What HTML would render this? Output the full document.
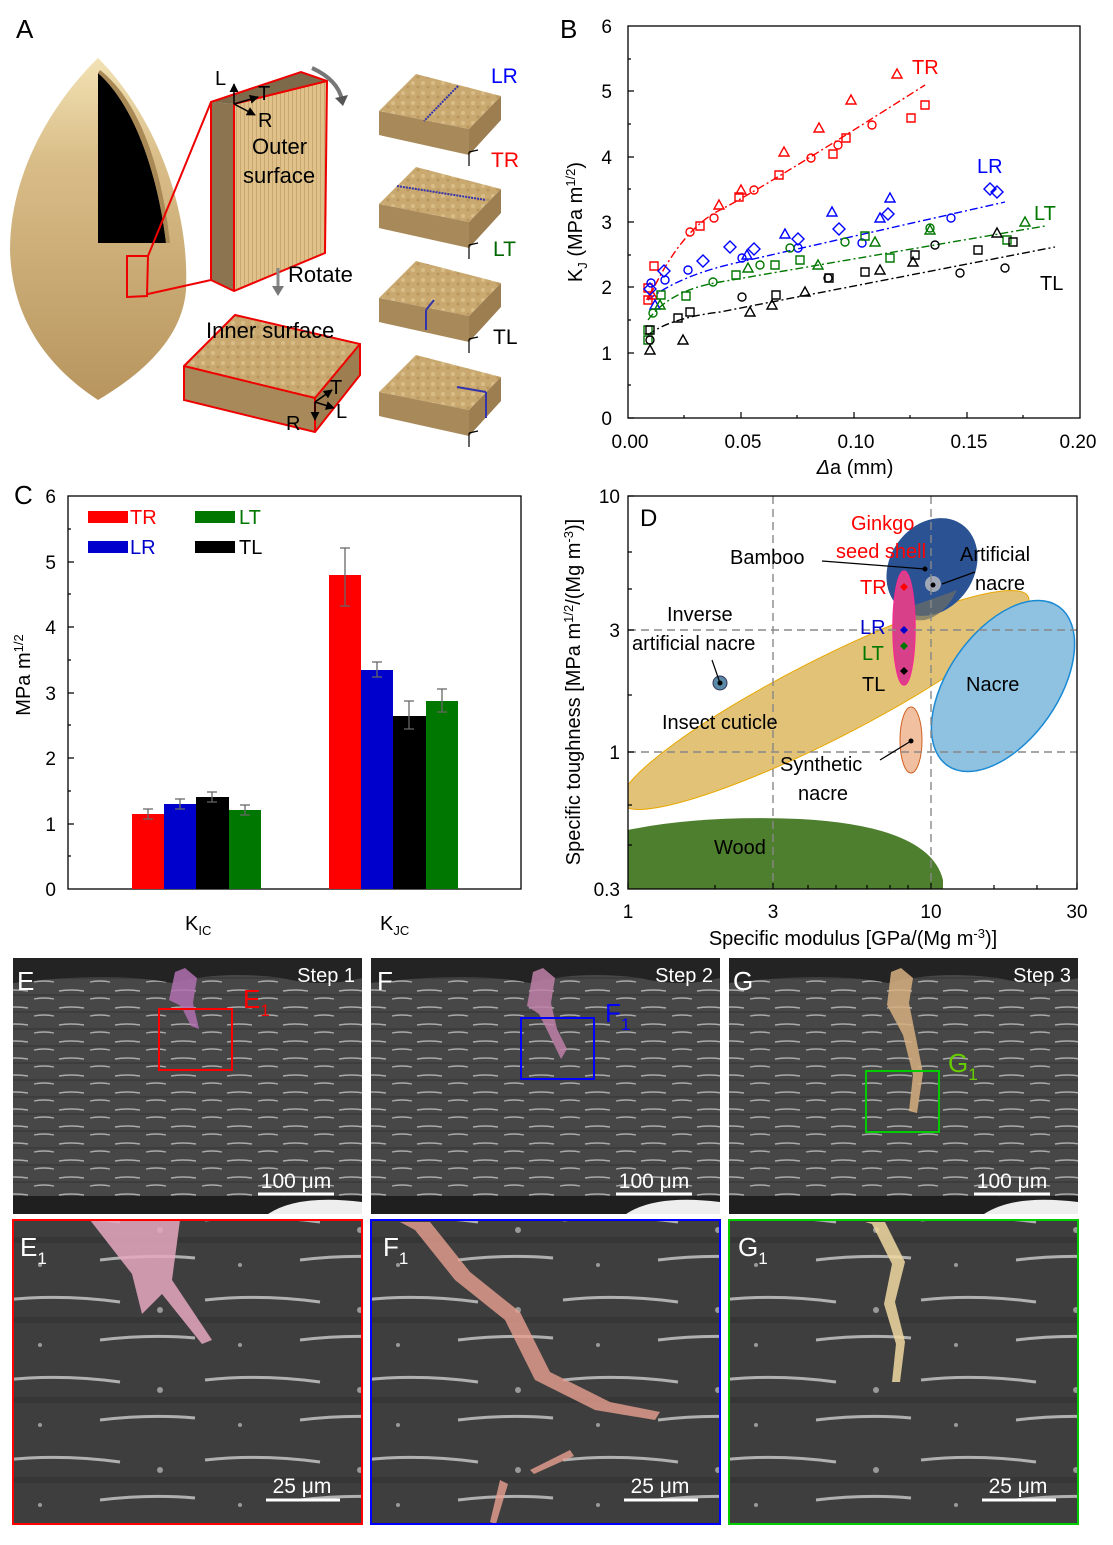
<!DOCTYPE html>
<html><head><meta charset="utf-8"><style>
html,body{margin:0;padding:0;background:#fff}
svg{display:block;font-family:"Liberation Sans",Arial,sans-serif}
</style></head><body>
<svg width="1113" height="1545" viewBox="0 0 1113 1545" xmlns="http://www.w3.org/2000/svg">
<defs>
<linearGradient id="seedTop" x1="0" y1="0" x2="0" y2="1"><stop offset="0" stop-color="#f2e2b4"/><stop offset="0.3" stop-color="#d9bd88"/><stop offset="1" stop-color="#b8955e"/></linearGradient>
<pattern id="sem1" width="56" height="17" patternUnits="userSpaceOnUse"><rect width="56" height="17" fill="#474747"/><path d="M3 5 Q15 3 28 5 M34 13 Q44 11 54 13" stroke="#aaa" stroke-width="1.4" fill="none"/><path d="M0 9 H56" stroke="#3d3d3d" stroke-width="2"/></pattern>
<pattern id="sem2" width="200" height="80" patternUnits="userSpaceOnUse"><rect width="200" height="80" fill="#3e3e3e"/><path d="M5 20 Q60 14 120 22 M100 60 Q150 54 195 58" stroke="#b0b0b0" stroke-width="3" fill="none"/><path d="M0 40 H200" stroke="#363636" stroke-width="6"/><circle cx="160" cy="30" r="3" fill="#999"/><circle cx="40" cy="65" r="2" fill="#999"/></pattern>
<pattern id="cork" width="10" height="10" patternUnits="userSpaceOnUse"><rect width="10" height="10" fill="#c9a96f"/><circle cx="3" cy="3" r="2" fill="#d8bd88"/><circle cx="8" cy="7" r="1.5" fill="#b8965d"/></pattern>
<pattern id="stripe" width="4" height="10" patternUnits="userSpaceOnUse"><rect width="4" height="10" fill="#e0c18a"/><rect width="1" height="10" fill="#c9a86f"/></pattern>
<clipPath id="dclip"><rect x="628" y="496" width="449" height="393"/></clipPath>
<marker id="arr" viewBox="0 0 10 10" refX="9" refY="5" markerWidth="6" markerHeight="6" orient="auto"><path d="M0 0 L10 5 L0 10z" fill="#000"/></marker>
</defs>

<!-- Panel A -->
<text x="16" y="38" font-size="26">A</text>
<path d="M98 58 C150 110 190 200 186 290 C182 340 140 375 98 400 C60 375 12 330 10 250 C10 170 55 100 98 58Z" fill="url(#seedTop)"/>
<path d="M98 73 L98 243 L166 243 C160 190 140 110 98 73Z" fill="#000"/>
<path d="M98 73 C140 110 160 190 166 243 L170 243 C164 185 145 105 100 70Z" fill="#a98955"/>
<polygon points="127,256 148,256 147,296 127,297" fill="none" stroke="#e00" stroke-width="2"/>
<line x1="148" y1="256" x2="211" y2="102" stroke="#e00" stroke-width="2"/>
<line x1="148" y1="294" x2="211" y2="280" stroke="#e00" stroke-width="2"/>
<polygon points="211,102 234,104 234,291 211,280" fill="#8c7450"/>
<polygon points="211,102 301,72 327,81 234,104" fill="#7d6a4a"/>
<polygon points="234,104 327,81 325,253 234,291" fill="url(#stripe)"/>
<polygon points="211,102 301,72 327,81 325,253 234,291 211,280" fill="none" stroke="#e00" stroke-width="2"/>
<line x1="234" y1="104" x2="234" y2="291" stroke="#e00" stroke-width="2"/><line x1="234" y1="104" x2="327" y2="81" stroke="#e00" stroke-width="2"/>
<line x1="234" y1="104" x2="234" y2="84" stroke="#000" stroke-width="1.5" marker-end="url(#arr)"/>
<line x1="234" y1="104" x2="258" y2="97" stroke="#000" stroke-width="1.5" marker-end="url(#arr)"/>
<line x1="234" y1="104" x2="255" y2="115" stroke="#000" stroke-width="1.5" marker-end="url(#arr)"/>
<text x="215" y="85" font-size="20">L</text><text x="258" y="100" font-size="20">T</text><text x="258" y="127" font-size="20">R</text>
<text x="252" y="154" font-size="22">Outer</text><text x="243" y="183" font-size="22">surface</text>
<path d="M312 68 Q338 80 342 100" stroke="#777" stroke-width="4" fill="none"/><path d="M335 98 L343 106 L348 95Z" fill="#555"/>
<line x1="278" y1="268" x2="278" y2="288" stroke="#888" stroke-width="3"/><path d="M272 286 L278 296 L284 286Z" fill="#777"/>
<text x="288" y="282" font-size="22">Rotate</text>
<polygon points="184,366 235,315 360,344 315,398" fill="url(#cork)"/>
<polygon points="184,366 315,398 315,432 184,400" fill="#a88a5a"/>
<polygon points="315,398 360,344 360,375 315,432" fill="#9c7e50"/>
<path d="M184,366 L235,315 L360,344 L360,375 L315,432 L184,400Z M184,366 L315,398 L360,344 M315,398 L315,432" fill="none" stroke="#e00" stroke-width="2"/>
<text x="206" y="338" font-size="22">Inner surface</text>
<line x1="315" y1="402" x2="315" y2="420" stroke="#000" stroke-width="1.5" marker-end="url(#arr)"/>
<line x1="315" y1="402" x2="332" y2="390" stroke="#000" stroke-width="1.5" marker-end="url(#arr)"/>
<line x1="315" y1="402" x2="334" y2="408" stroke="#000" stroke-width="1.5" marker-end="url(#arr)"/>
<text x="330" y="394" font-size="20">T</text><text x="336" y="418" font-size="20">L</text><text x="286" y="430" font-size="20">R</text>
<g id="blk"><polygon points="379,111 416,74 501,96 469,129" fill="url(#cork)"/><polygon points="379,111 469,129 469,155 379,135" fill="#a88a5a"/><polygon points="469,129 501,96 501,120 469,155" fill="#9c7e50"/><line x1="469" y1="152" x2="469" y2="166" stroke="#000" stroke-width="1.2"/><line x1="469" y1="152" x2="478" y2="150" stroke="#000" stroke-width="1.2"/></g>
<use href="#blk" y="93"/><use href="#blk" y="187"/><use href="#blk" y="281"/>
<line x1="458" y1="86" x2="424" y2="121" stroke="#33a" stroke-width="2" stroke-dasharray="2 1"/>
<line x1="397" y1="186" x2="486" y2="200" stroke="#33a" stroke-width="2" stroke-dasharray="2 1"/>
<line x1="434" y1="300" x2="426" y2="310" stroke="#33a" stroke-width="2"/><line x1="426" y1="310" x2="426" y2="330" stroke="#33a" stroke-width="2"/>
<line x1="457" y1="387" x2="486" y2="392" stroke="#33a" stroke-width="2"/><line x1="486" y1="392" x2="486" y2="418" stroke="#33a" stroke-width="2"/>
<text x="491" y="83" font-size="21" fill="#00f">LR</text>
<text x="491" y="167" font-size="21" fill="#f00">TR</text>
<text x="493" y="256" font-size="21" fill="#060">LT</text>
<text x="493" y="344" font-size="21">TL</text>

<!-- Panel B -->
<text x="560" y="38" font-size="26">B</text>
<rect x="628" y="26" width="452" height="392" fill="none" stroke="#000" stroke-width="1.3"/>
<g font-size="19" text-anchor="end"><text x="612" y="425">0</text><text x="612" y="360">1</text><text x="612" y="294">2</text><text x="612" y="229">3</text><text x="612" y="164">4</text><text x="612" y="98">5</text><text x="612" y="33">6</text></g>
<g stroke="#000" stroke-width="1.2"><path d="M628 418h6M628 353h6M628 287h6M628 222h6M628 157h6M628 91h6M628 385h3M628 320h3M628 255h3M628 189h3M628 124h3M628 59h3M741 418v-6M854 418v-6M967 418v-6M684 418v-3M797 418v-3M910 418v-3M1023 418v-3"/></g>
<g font-size="19" text-anchor="middle"><text x="630" y="448">0.00</text><text x="743" y="448">0.05</text><text x="856" y="448">0.10</text><text x="969" y="448">0.15</text><text x="1078" y="448">0.20</text></g>
<text x="855" y="474" font-size="20" text-anchor="middle"><tspan font-style="italic">Δ</tspan>a (mm)</text>
<text transform="translate(582,222) rotate(-90)" font-size="20" text-anchor="middle">K<tspan font-size="13" dy="5">J</tspan><tspan dy="-5"> (MPa m</tspan><tspan font-size="13" dy="-7">1/2</tspan><tspan dy="7">)</tspan></text>
<g fill="none" stroke-width="1.4">
<path d="M648 300 Q680 230 720 210 T925 85" stroke="#f00" stroke-dasharray="8 3 2 3"/>
<path d="M648 300 Q680 275 740 262 L1005 202" stroke="#00f" stroke-dasharray="8 3 2 3"/>
<path d="M648 320 Q670 290 720 282 L1045 226" stroke="#070" stroke-dasharray="8 3 2 3"/>
<path d="M648 335 Q670 318 720 312 L1055 247" stroke="#000" stroke-dasharray="8 3 2 3"/>
<g stroke="#f00"><path d="M897 69l5 9h-10zM851 95l5 9h-10zM819 123l5 9h-10zM784 147l5 9h-10zM741 185l5 9h-10zM719 200l5 9h-10zM652 290l5 9h-10z"/>
<circle cx="872" cy="125" r="4"/><circle cx="838" cy="145" r="4"/><circle cx="811" cy="158" r="4"/><circle cx="754" cy="190" r="4"/><circle cx="714" cy="218" r="4"/><circle cx="690" cy="232" r="4"/>
<path d="M921 101h8v8h-8zM907 114h8v8h-8zM842 134h8v8h-8zM829 150h8v8h-8zM775 171h8v8h-8zM735 193h8v8h-8zM696 222h8v8h-8zM650 262h8v8h-8zM644 284h8v8h-8zM644 296h8v8h-8z"/></g>
<g stroke="#00f"><path d="M997 186l6 6-6 6-6-6zM990 183l6 6-6 6-6-6zM888 208l6 6-6 6-6-6zM839 223l6 6-6 6-6-6zM798 233l6 6-6 6-6-6zM754 243l6 6-6 6-6-6zM730 241l6 6-6 6-6-6zM703 255l6 6-6 6-6-6zM664 265l6 6-6 6-6-6zM650 283l6 6-6 6-6-6z"/>
<path d="M890 193l5 9h-10zM832 207l5 9h-10zM785 229l5 9h-10zM747 250l5 9h-10zM880 213l5 9h-10zM655 300l5 9h-10z"/>
<circle cx="951" cy="218" r="4"/><circle cx="862" cy="243" r="4"/><circle cx="798" cy="248" r="4"/><circle cx="742" cy="258" r="4"/><circle cx="688" cy="270" r="4"/><circle cx="665" cy="280" r="4"/><circle cx="651" cy="283" r="4"/></g>
<g stroke="#070"><path d="M1025 217l5 9h-10zM930 225l5 9h-10zM875 237l5 9h-10zM818 260l5 9h-10zM748 263l5 9h-10zM660 300l5 9h-10z"/>
<path d="M1003 236h8v8h-8zM886 254h8v8h-8zM861 232h8v8h-8zM796 256h8v8h-8zM771 261h8v8h-8zM732 271h8v8h-8zM682 292h8v8h-8zM657 291h8v8h-8zM644 326h8v8h-8zM644 336h8v8h-8z"/>
<circle cx="930" cy="228" r="4"/><circle cx="845" cy="242" r="4"/><circle cx="790" cy="248" r="4"/><circle cx="760" cy="265" r="4"/><circle cx="713" cy="282" r="4"/><circle cx="653" cy="313" r="4"/></g>
<g stroke="#000"><path d="M997 228l5 9h-10zM913 257l5 9h-10zM880 265l5 9h-10zM805 287l5 9h-10zM772 300l5 9h-10zM750 307l5 9h-10zM683 335l5 9h-10zM650 345l5 9h-10z"/>
<path d="M1009 238h8v8h-8zM974 246h8v8h-8zM911 251h8v8h-8zM861 268h8v8h-8zM825 274h8v8h-8zM772 291h8v8h-8zM686 308h8v8h-8zM674 314h8v8h-8zM646 326h8v8h-8z"/>
<circle cx="1005" cy="268" r="4"/><circle cx="960" cy="273" r="4"/><circle cx="935" cy="245" r="4"/><circle cx="828" cy="278" r="4"/><circle cx="742" cy="297" r="4"/><circle cx="650" cy="340" r="4"/></g>
</g>
<text x="912" y="74" font-size="20" fill="#f00">TR</text>
<text x="977" y="173" font-size="20" fill="#00f">LR</text>
<text x="1034" y="220" font-size="20" fill="#070">LT</text>
<text x="1040" y="290" font-size="20">TL</text>

<!-- Panel C -->
<text x="14" y="504" font-size="26">C</text>
<rect x="68" y="496" width="453" height="393" fill="none" stroke="#000" stroke-width="1.3"/>
<g font-size="19" text-anchor="end"><text x="56" y="896">0</text><text x="56" y="831">1</text><text x="56" y="765">2</text><text x="56" y="700">3</text><text x="56" y="634">4</text><text x="56" y="569">5</text><text x="56" y="503">6</text></g>
<path d="M68 824h6M68 758h6M68 693h6M68 627h6M68 562h6M68 856h3M68 791h3M68 725h3M68 660h3M68 594h3M68 529h3M196 889v-6M393 889v-6" stroke="#000" stroke-width="1.2"/>
<text transform="translate(30,675) rotate(-90)" font-size="20" text-anchor="middle">MPa m<tspan font-size="13" dy="-7">1/2</tspan></text>
<text x="185" y="930" font-size="20">K<tspan font-size="13" dy="5">IC</tspan></text>
<text x="380" y="930" font-size="20">K<tspan font-size="13" dy="5">JC</tspan></text>
<rect x="132" y="814" width="32" height="75" fill="#f00"/><rect x="164" y="804" width="32" height="85" fill="#00c"/><rect x="196" y="797" width="33" height="92" fill="#000"/><rect x="229" y="810" width="32" height="79" fill="#070"/>
<rect x="329" y="575" width="32" height="314" fill="#f00"/><rect x="361" y="670" width="32" height="219" fill="#00c"/><rect x="393" y="716" width="33" height="173" fill="#000"/><rect x="426" y="701" width="32" height="188" fill="#070"/>
<path d="M148 809v10M143 809h10M143 819h10M180 799v10M175 799h10M175 809h10M212 792v10M207 792h10M207 802h10M245 805v10M240 805h10M240 815h10M345 548v58M340 548h10M340 606h10M377 662v15M372 662h10M372 677h10M409 701v28M404 701h10M404 729h10M442 689v23M437 689h10M437 712h10" stroke="#666" stroke-width="1.3" fill="none"/>
<rect x="88" y="511" width="40" height="12" fill="#f00"/><text x="130" y="524" font-size="20" fill="#f00">TR</text>
<rect x="195" y="511" width="40" height="12" fill="#070"/><text x="239" y="524" font-size="20" fill="#070">LT</text>
<rect x="88" y="541" width="40" height="12" fill="#00c"/><text x="130" y="554" font-size="20" fill="#00c">LR</text>
<rect x="195" y="541" width="40" height="12" fill="#000"/><text x="239" y="554" font-size="20">TL</text>

<!-- Panel D -->
<g clip-path="url(#dclip)">
<path d="M628 830 Q700 815 800 819 Q930 826 943 880 L943 889 L628 889Z" fill="#4e7f2e"/>
<ellipse cx="825" cy="700" rx="228" ry="40" transform="rotate(-27 825 700)" fill="#e2c277" stroke="#e8a800" stroke-width="1"/>
</g>
<ellipse cx="1003" cy="686" rx="55" ry="97" transform="rotate(35 1003 686)" fill="#8fc1e0" stroke="#1a8ad4" stroke-width="1.5"/>
<ellipse cx="932" cy="567" rx="42" ry="52" transform="rotate(35 932 567)" fill="#2b5393"/>
<path d="M900 610 Q930 600 957 590 Q945 615 925 620 Q905 622 900 610Z" fill="#6e6e62" opacity="0.7"/>
<ellipse cx="904" cy="628" rx="11" ry="57" fill="#d8408a" stroke="#f03090" stroke-width="1.5"/>
<ellipse cx="911" cy="740" rx="11" ry="33" fill="#f0c0a0" stroke="#d06020" stroke-width="1"/>
<circle cx="933" cy="584" r="8" fill="#a0a8b8"/><circle cx="720" cy="683" r="7" fill="#5a8aa8" stroke="#335" stroke-width="1"/>
<path d="M628 630H1077M628 752H1077M773 496V889M931 496V889" stroke="#888" stroke-width="1.4" stroke-dasharray="8 5"/>
<rect x="628" y="496" width="449" height="393" fill="none" stroke="#000" stroke-width="1.3"/>
<path d="M628 889v-6M773 889v-6M931 889v-6M1077 889v-6M715 889v-4M808 889v-4M836 889v-4M867 889v-4M890 889v-4M908 889v-4M994 889v-4M1037 889v-4M628 496h6M628 630h6M628 752h6M628 845h4M628 805h4M628 695h4M628 589h4M628 552h4" stroke="#000" stroke-width="1.2"/>
<g font-size="19" text-anchor="end"><text x="620" y="503">10</text><text x="620" y="637">3</text><text x="620" y="759">1</text><text x="620" y="896">0.3</text></g>
<g font-size="19" text-anchor="middle"><text x="628" y="918">1</text><text x="773" y="918">3</text><text x="931" y="918">10</text><text x="1077" y="918">30</text></g>
<text x="853" y="945" font-size="20" text-anchor="middle">Specific modulus [GPa/(Mg m<tspan font-size="13" dy="-7">-3</tspan><tspan dy="7">)]</tspan></text>
<text transform="translate(580,692) rotate(-90)" font-size="20" text-anchor="middle">Specific toughness [MPa m<tspan font-size="13" dy="-7">1/2</tspan><tspan dy="7">/(Mg m</tspan><tspan font-size="13" dy="-7">-3</tspan><tspan dy="7">)]</tspan></text>
<text x="640" y="526" font-size="24">D</text>
<g font-size="20">
<text x="851" y="530" fill="#f00">Ginkgo</text><text x="836" y="558" fill="#f00">seed shell</text>
<text x="730" y="564">Bamboo</text><text x="960" y="561">Artificial</text><text x="975" y="590">nacre</text>
<text x="860" y="594" fill="#f00">TR</text><text x="860" y="634" fill="#00c">LR</text><text x="862" y="660" fill="#070">LT</text><text x="862" y="691">TL</text>
<text x="667" y="621">Inverse</text><text x="632" y="650">artificial nacre</text>
<text x="662" y="729">Insect cuticle</text><text x="966" y="691">Nacre</text>
<text x="780" y="771">Synthetic</text><text x="798" y="800">nacre</text><text x="714" y="854">Wood</text>
</g>
<path d="M822 561 L925 569 M942 584 L975 572 M720 683 L712 660 M880 760 L911 741" stroke="#000" stroke-width="1.2"/>
<circle cx="925" cy="569" r="2.5"/><circle cx="933" cy="585" r="2.5"/><circle cx="720" cy="683" r="2.5"/><circle cx="911" cy="741" r="2.5"/>
<path d="M904 583l4 4-4 4-4-4z" fill="#f00"/><path d="M904 626l4 4-4 4-4-4z" fill="#00c"/><path d="M904 642l4 4-4 4-4-4z" fill="#070"/><path d="M904 667l4 4-4 4-4-4z" fill="#000"/>

<!-- SEM row 1 -->
<g id="s1">
<rect x="13" y="958" width="349" height="256" fill="url(#sem1)"/>
<path d="M13 958h349v20 q-40 10 -80 0 q-60 -8 -110 5 q-60 -12 -159 0z" fill="#232323"/>
<path d="M13 1196h349v18H13z" fill="#1f1f1f"/>
<path d="M268 1214 q30 -20 94 -12 v12z" fill="#eee"/>
<line x1="258" y1="1194" x2="334" y2="1194" stroke="#fff" stroke-width="3"/>
<text x="296" y="1188" font-size="21" fill="#fff" text-anchor="middle">100 μm</text>
</g>
<use href="#s1" x="358"/><use href="#s1" x="716"/>
<path d="M175 972 l10 -4 12 10 -4 25 6 26 -8 -3 -10 -20 -12 -6z" fill="#b070b0" opacity="0.85"/>
<path d="M533 972 l10 -4 12 10 -4 25 6 26 10 20 -6 10 -12 -25 -10 -20 -12 -8z" fill="#c080a8" opacity="0.85"/>
<path d="M891 972 l10 -4 12 10 -4 25 6 30 8 40 -6 40 -8 -2 4 -36 -10 -40 -16 -30z" fill="#d8b080" opacity="0.85"/>
<rect x="159" y="1009" width="73" height="61" fill="none" stroke="#f00" stroke-width="2"/>
<rect x="521" y="1018" width="73" height="61" fill="none" stroke="#00f" stroke-width="2"/>
<rect x="866" y="1071" width="73" height="61" fill="none" stroke="#0c0" stroke-width="2"/>
<g font-size="26" fill="#fff"><text x="17" y="990">E</text><text x="377" y="990">F</text><text x="733" y="990">G</text></g>
<g font-size="20" fill="#fff" text-anchor="end"><text x="355" y="982">Step 1</text><text x="713" y="982">Step 2</text><text x="1071" y="982">Step 3</text></g>
<text x="243" y="1008" font-size="26" fill="#f00">E<tspan font-size="17" dy="8">1</tspan></text>
<text x="605" y="1022" font-size="26" fill="#00f">F<tspan font-size="17" dy="8">1</tspan></text>
<text x="948" y="1072" font-size="26" fill="#6c0">G<tspan font-size="17" dy="8">1</tspan></text>

<!-- SEM row 2 -->
<g id="s2">
<rect x="13" y="1220" width="349" height="304" fill="url(#sem2)"/>
<line x1="266" y1="1500" x2="340" y2="1500" stroke="#fff" stroke-width="3"/>
<text x="302" y="1493" font-size="21" fill="#fff" text-anchor="middle">25 μm</text>
</g>
<use href="#s2" x="358"/><use href="#s2" x="716"/>
<path d="M90 1220 h90 l-8 60 40 60 -10 4 -40 -50 -20 20 -10 -40z" fill="#e8a8c0" opacity="0.85"/>
<path d="M400 1222 l30 0 40 50 50 40 30 60 60 30 50 10 -5 8 -60 -10 -60 -30 -30 -60 -50 -40 -40 -50z" fill="#e8a090" opacity="0.8"/>
<path d="M500 1480 l8 4 -12 40 -6 -2z M530 1470 l40 -20 4 6 -40 18z" fill="#e8a090" opacity="0.8"/>
<path d="M865 1222 l20 0 20 40 -10 40 10 40 -5 40 -8 0 4 -38 -12 -40 8 -40 -20 -40z" fill="#f0d8a0" opacity="0.85"/>
<rect x="13" y="1220" width="349" height="304" fill="none" stroke="#f00" stroke-width="2"/>
<rect x="371" y="1220" width="349" height="304" fill="none" stroke="#00f" stroke-width="2"/>
<rect x="729" y="1220" width="349" height="304" fill="none" stroke="#0c0" stroke-width="2"/>
<g font-size="26" fill="#fff"><text x="20" y="1256">E<tspan font-size="17" dy="8">1</tspan></text><text x="383" y="1256">F<tspan font-size="17" dy="8">1</tspan></text><text x="738" y="1256">G<tspan font-size="17" dy="8">1</tspan></text></g>
</svg>
</body></html>
